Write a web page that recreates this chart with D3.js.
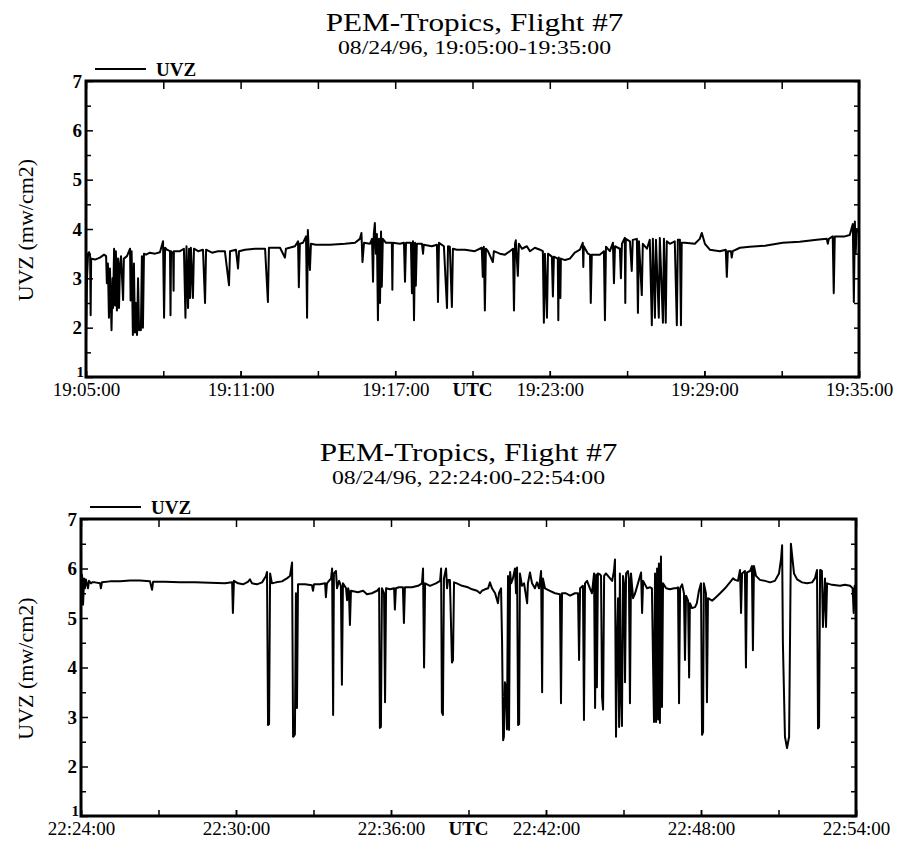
<!DOCTYPE html>
<html>
<head>
<meta charset="utf-8">
<script src="https://cdn.jsdelivr.net/npm/d3@7"></script>
<style>
  body { margin: 0; background: #fff; }
  text { font-family: "Liberation Serif", "Times New Roman", serif; fill: #000; }
</style>
</head>
<body>
<script>
// ── Data (minutes after start, UVZ mw/cm2) ─────────────────────────────
const titleText = 'PEM-Tropics, Flight #7';
const earlySubtitle = '08/24/96, 19:05:00-19:35:00';
const lateSubtitle = '08/24/96, 22:24:00-22:54:00';

const tickMinutes = [0, 6, 12, 18, 24, 30];
const earlyTickLabels = ['19:05:00', '19:11:00', '19:17:00', '19:23:00', '19:29:00', '19:35:00'];
const lateTickLabels = ['22:24:00', '22:30:00', '22:36:00', '22:42:00', '22:48:00', '22:54:00'];
const yTickValues = [1, 2, 3, 4, 5, 6, 7];

const uvzEarly = [
  [0,1.7],[0.04,3.0],[0.08,3.5],[0.12,3.53],[0.16,3.45],[0.18,2.25],[0.20,3.4],[0.35,3.38],[0.54,3.42],[0.70,3.48],
  [0.78,3.45],[0.81,2.9],[0.85,3.3],[0.89,2.2],[0.93,3.2],[0.99,1.95],[1.03,3.0],[1.05,2.4],[1.09,3.6],[1.13,2.45],
  [1.16,3.55],[1.20,2.35],[1.24,3.4],[1.28,2.4],[1.32,3.3],[1.36,3.45],[1.44,2.56],[1.47,3.4],[1.59,3.45],[1.71,3.6],
  [1.73,2.55],[1.77,3.55],[1.82,1.85],[1.86,3.3],[1.90,1.9],[1.94,2.5],[1.98,1.85],[2.02,3.0],[2.06,1.95],[2.10,2.0],
  [2.13,1.95],[2.17,3.45],[2.21,2.0],[2.25,3.5],[2.33,3.48],[2.48,3.52],[2.68,3.5],[2.87,3.53],[2.99,3.75],[3.03,2.2],
  [3.07,3.62],[3.14,3.58],[3.26,3.55],[3.28,2.25],[3.30,3.55],[3.38,3.5],[3.40,2.75],[3.41,3.55],[3.65,3.55],[3.80,3.6],
  [3.86,2.2],[3.90,3.65],[3.96,2.4],[4.00,3.6],[4.04,2.6],[4.07,3.62],[4.15,2.6],[4.19,3.6],[4.35,3.55],[4.54,3.58],
  [4.62,2.5],[4.66,3.58],[4.89,3.52],[5.12,3.55],[5.39,3.55],[5.55,2.86],[5.59,3.55],[5.82,3.58],[5.90,3.2],[5.94,3.55],
  [6.17,3.58],[6.56,3.6],[6.95,3.6],[7.06,2.52],[7.10,3.62],[7.53,3.62],[7.72,3.42],[7.76,3.6],[8.11,3.65],[8.23,3.75],
  [8.26,2.82],[8.30,3.7],[8.42,3.72],[8.54,3.85],[8.58,2.2],[8.61,3.98],[8.65,3.5],[8.69,3.17],[8.73,3.7],[8.92,3.68],
  [9.47,3.68],[10.05,3.7],[10.44,3.72],[10.63,3.8],[10.69,3.92],[10.73,3.33],[10.79,3.72],[11.02,3.7],[11.10,3.8],[11.14,2.93],
  [11.17,3.9],[11.21,4.12],[11.25,3.5],[11.29,3.9],[11.33,2.15],[11.37,3.8],[11.41,2.5],[11.45,3.95],[11.48,2.83],[11.52,3.8],
  [11.64,3.72],[11.87,3.72],[11.89,2.77],[11.91,3.72],[12.18,3.7],[12.34,3.72],[12.38,2.93],[12.42,3.72],[12.61,3.72],[12.65,2.7],
  [12.69,3.75],[12.73,2.15],[12.77,3.72],[12.80,2.85],[12.84,3.7],[13.04,3.7],[13.08,3.5],[13.11,3.68],[13.42,3.65],[13.62,3.68],
  [13.66,2.52],[13.70,3.72],[13.89,3.65],[14.01,2.4],[14.05,3.65],[14.12,3.64],[14.20,2.42],[14.24,3.6],[14.39,3.58],[14.71,3.58],
  [15.09,3.55],[15.36,3.62],[15.40,3.03],[15.44,3.64],[15.48,2.35],[15.52,3.6],[15.60,3.55],[15.79,3.33],[15.83,3.55],[16.06,3.5],
  [16.26,3.48],[16.45,3.55],[16.57,3.6],[16.61,2.35],[16.65,3.7],[16.68,3.77],[16.76,3.05],[16.80,3.7],[16.92,3.6],[17.11,3.65],
  [17.23,3.55],[17.42,3.62],[17.62,3.58],[17.73,3.55],[17.77,2.1],[17.81,3.5],[17.89,2.2],[17.93,3.5],[18.08,3.44],[18.12,2.63],
  [18.16,3.44],[18.31,3.4],[18.33,2.15],[18.35,3.42],[18.41,2.6],[18.43,3.4],[18.59,3.37],[18.78,3.4],[18.97,3.52],[19.17,3.58],
  [19.28,3.72],[19.30,3.23],[19.32,3.65],[19.48,3.5],[19.56,3.48],[19.59,2.5],[19.63,3.48],[19.94,3.48],[20.10,3.55],[20.14,2.15],
  [20.18,3.64],[20.33,3.55],[20.45,3.72],[20.49,2.9],[20.53,3.65],[20.72,3.6],[20.76,3.0],[20.80,3.7],[20.91,3.82],[20.93,2.5],
  [20.95,3.8],[21.11,3.75],[21.18,3.15],[21.22,3.78],[21.38,3.8],[21.42,2.3],[21.46,3.75],[21.57,2.66],[21.61,3.7],[21.77,3.6],
  [21.88,3.78],[21.96,2.05],[22.00,3.8],[22.08,2.2],[22.12,3.78],[22.23,2.2],[22.27,3.82],[22.39,2.1],[22.43,3.8],[22.50,2.1],
  [22.54,3.75],[22.66,3.7],[22.85,3.75],[22.93,2.05],[22.97,3.78],[23.05,3.78],[23.09,2.05],[23.12,3.72],[23.24,3.72],[23.63,3.7],
  [23.82,3.8],[23.90,3.92],[24.02,3.7],[24.21,3.58],[24.60,3.55],[24.83,3.58],[24.87,3.03],[24.91,3.55],[25.03,3.55],[25.06,3.42],
  [25.10,3.55],[25.38,3.62],[25.76,3.64],[26.35,3.66],[27.04,3.72],[27.70,3.74],[28.36,3.78],[28.75,3.8],[28.79,3.7],[28.83,3.8],
  [28.98,3.85],[29.02,2.7],[29.06,3.85],[29.45,3.85],[29.64,3.88],[29.76,4.1],[29.80,2.52],[29.84,4.15],[29.87,3.5],[29.91,4.0],
  [30.00,3.92]
];

const uvzLate = [
  [0,5.85],[0.04,5.87],[0.08,5.27],[0.12,5.8],[0.15,5.6],[0.19,5.78],[0.27,5.6],[0.31,5.75],[0.39,5.7],[0.43,5.72],
  [0.54,5.72],[0.74,5.7],[0.77,5.6],[0.81,5.72],[1.12,5.74],[1.51,5.74],[1.90,5.76],[2.28,5.76],[2.67,5.74],[2.75,5.57],
  [2.79,5.73],[3.25,5.73],[3.83,5.72],[4.41,5.72],[4.99,5.71],[5.57,5.7],[5.85,5.72],[5.88,5.1],[5.92,5.75],[6.08,5.7],
  [6.27,5.68],[6.46,5.73],[6.54,5.78],[6.62,5.7],[6.81,5.68],[7.01,5.72],[7.16,5.85],[7.20,5.93],[7.24,2.84],[7.28,2.86],
  [7.32,5.9],[7.39,5.7],[7.55,5.72],[7.78,5.74],[7.97,5.8],[8.09,5.85],[8.17,6.12],[8.21,2.6],[8.25,2.62],[8.28,2.65],
  [8.32,5.5],[8.36,3.18],[8.40,5.68],[8.67,5.68],[8.94,5.66],[8.98,5.55],[9.02,5.68],[9.25,5.68],[9.45,5.7],[9.48,5.42],
  [9.52,5.7],[9.68,5.8],[9.72,6.0],[9.76,3.04],[9.79,5.9],[9.87,5.95],[9.91,5.6],[9.99,5.75],[10.06,5.65],[10.10,3.65],
  [10.14,5.7],[10.26,5.6],[10.30,5.36],[10.34,5.6],[10.37,5.55],[10.41,4.86],[10.45,5.55],[10.72,5.52],[10.92,5.55],[11.07,5.48],
  [11.26,5.5],[11.46,5.55],[11.54,5.6],[11.57,2.78],[11.61,2.8],[11.65,5.6],[11.73,5.5],[11.77,3.3],[11.81,5.6],[11.96,5.58],
  [12.12,5.6],[12.15,5.17],[12.19,5.6],[12.31,5.62],[12.46,5.62],[12.50,4.9],[12.54,5.62],[12.81,5.62],[13.05,5.65],[13.20,5.7],
  [13.24,6.0],[13.28,4.0],[13.32,5.7],[13.51,5.65],[13.74,5.7],[13.90,5.75],[13.94,6.0],[13.97,3.1],[14.01,3.04],[14.05,5.8],
  [14.13,6.0],[14.17,5.6],[14.21,5.77],[14.28,5.77],[14.36,4.1],[14.40,4.15],[14.44,5.72],[14.55,5.7],[14.75,5.65],[14.98,5.62],
  [15.14,5.58],[15.33,5.55],[15.45,5.5],[15.52,5.55],[15.64,5.58],[15.76,5.6],[15.83,5.72],[15.91,5.6],[16.03,5.5],[16.14,5.3],
  [16.18,5.5],[16.26,5.6],[16.30,4.5],[16.34,2.53],[16.37,2.6],[16.41,3.7],[16.45,3.6],[16.49,2.75],[16.53,5.85],[16.57,2.74],
  [16.61,5.93],[16.65,5.7],[16.72,5.8],[16.80,6.0],[16.84,5.5],[16.88,6.02],[16.92,2.84],[16.96,2.86],[16.99,5.9],[17.07,5.65],
  [17.15,5.7],[17.27,5.3],[17.30,5.7],[17.38,5.92],[17.46,5.7],[17.57,5.6],[17.65,5.72],[17.73,5.6],[17.81,5.95],[17.85,3.5],
  [17.88,5.8],[17.96,5.6],[18.15,5.55],[18.35,5.5],[18.54,5.48],[18.58,3.28],[18.62,5.5],[18.77,5.5],[18.93,5.45],[19.12,5.5],
  [19.24,5.5],[19.28,4.15],[19.32,5.6],[19.43,5.65],[19.47,2.94],[19.51,5.7],[19.59,5.75],[19.70,5.6],[19.78,5.5],[19.86,5.9],
  [19.90,3.18],[19.94,5.88],[19.97,3.6],[20.01,5.9],[20.09,5.88],[20.13,5.85],[20.17,3.4],[20.21,3.15],[20.25,5.85],[20.32,5.9],
  [20.40,5.85],[20.48,5.8],[20.56,5.75],[20.63,5.95],[20.67,6.18],[20.71,2.6],[20.75,4.5],[20.79,5.4],[20.83,2.8],[20.86,5.9],
  [20.90,3.5],[20.94,2.82],[20.98,5.85],[21.02,5.7],[21.06,3.7],[21.10,5.9],[21.17,5.95],[21.21,5.8],[21.25,3.28],[21.29,5.9],
  [21.37,5.4],[21.45,5.5],[21.56,5.7],[21.68,5.92],[21.72,5.1],[21.76,5.75],[21.91,5.6],[22.03,5.62],[22.10,5.6],[22.18,2.9],
  [22.22,5.9],[22.26,2.9],[22.30,6.0],[22.34,2.95],[22.37,6.1],[22.41,2.88],[22.45,6.24],[22.49,3.2],[22.53,5.7],[22.65,5.6],
  [22.80,5.58],[22.96,5.6],[23.03,5.6],[23.11,5.62],[23.15,3.28],[23.19,5.6],[23.27,5.68],[23.34,5.5],[23.38,4.15],[23.42,5.45],
  [23.50,5.35],[23.54,3.8],[23.57,5.3],[23.65,5.2],[23.77,5.22],[23.84,5.3],[23.92,5.55],[24.00,5.7],[24.04,2.64],[24.08,2.7],
  [24.11,5.7],[24.19,5.5],[24.23,3.3],[24.27,5.4],[24.43,5.35],[24.58,5.42],[24.74,5.5],[24.93,5.6],[25.12,5.72],[25.24,5.8],
  [25.32,5.77],[25.43,5.75],[25.51,5.97],[25.55,5.1],[25.59,5.9],[25.70,5.95],[25.74,4.0],[25.78,5.92],[25.90,5.95],[25.97,6.05],
  [26.01,4.35],[26.05,6.05],[26.13,5.85],[26.28,5.77],[26.48,5.75],[26.67,5.72],[26.86,5.75],[27.02,5.9],[27.10,6.2],[27.14,6.47],
  [27.17,4.5],[27.25,2.6],[27.33,2.37],[27.41,2.6],[27.45,4.8],[27.48,6.5],[27.52,6.3],[27.60,5.9],[27.72,5.78],[27.91,5.72],
  [28.10,5.7],[28.30,5.72],[28.41,5.8],[28.49,5.97],[28.53,2.77],[28.57,2.8],[28.61,5.97],[28.68,5.95],[28.72,4.82],[28.80,5.8],
  [28.84,4.82],[28.88,5.7],[29.07,5.67],[29.38,5.65],[29.57,5.67],[29.77,5.65],[29.87,5.6],[29.91,5.1],[29.95,5.65],[30.00,5.65]
];

// ── Layout ─────────────────────────────────────────────────────────────
const width = 898;
const height = 842;

const svg = d3.select('body')
  .append('svg')
  .attr('width', width)
  .attr('height', height);

function drawPanel(p) {
  const x = d3.scaleLinear().domain([0, 30]).range([p.left, p.right]);
  const y = d3.scaleLinear().domain([1, 7]).range([p.bottom, p.top]);
  const g = svg.append('g');
  const cx = (p.left + p.right) / 2;

  // titles (the original lettering is wider than Times, so stretch it)
  g.append('text')
    .attr('transform', `translate(${cx + p.titleShift}, ${p.titleY}) scale(1.2, 1)`)
    .attr('text-anchor', 'middle')
    .style('font-size', '26px')
    .text(titleText);

  g.append('text')
    .attr('transform', `translate(${cx + p.titleShift}, ${p.titleY + 23}) scale(1.25, 1)`)
    .attr('text-anchor', 'middle')
    .style('font-size', '19px')
    .text(p.subtitle);

  // the series
  g.append('path')
    .datum(p.data)
    .attr('d', d3.line().x(d => x(d[0])).y(d => y(d[1])))
    .attr('fill', 'none')
    .attr('stroke', '#000')
    .attr('stroke-width', 2)
    .attr('stroke-linejoin', 'round');

  // bottom axis, ticks every 3 min, labels every 6
  g.append('g')
    .attr('transform', `translate(0, ${p.bottom})`)
    .call(d3.axisBottom(x).tickValues(d3.range(0, 31, 3)).tickSize(-6).tickFormat(''));

  g.append('g')
    .attr('class', 'xlab')
    .attr('transform', `translate(0, ${p.bottom})`)
    .call(d3.axisBottom(x).tickValues(tickMinutes).tickSize(-6).tickPadding(6)
      .tickFormat((d, i) => p.tickLabels[i]));

  // top axis
  g.append('g')
    .attr('transform', `translate(0, ${p.top})`)
    .call(d3.axisTop(x).tickValues(d3.range(0, 31, 3)).tickSize(-8).tickFormat(''));

  // left axis: minor halves, then labelled integers
  g.append('g')
    .attr('transform', `translate(${p.left}, 0)`)
    .call(d3.axisLeft(y).tickValues(d3.range(1.5, 7, 1)).tickSize(-5).tickFormat(''));

  g.append('g')
    .attr('class', 'ylab')
    .attr('transform', `translate(${p.left}, 0)`)
    .call(d3.axisLeft(y).tickValues(yTickValues).tickSize(-7).tickPadding(4).tickFormat(d3.format('d')));

  // right axis
  g.append('g')
    .attr('transform', `translate(${p.right}, 0)`)
    .call(d3.axisRight(y).tickValues(d3.range(1, 7.01, 0.5)).tickSize(-5).tickFormat(''));

  g.selectAll('.domain').remove();
  g.selectAll('.tick line').attr('stroke', '#000').attr('stroke-width', 1.5);

  g.selectAll('.xlab text')
    .attr('fill', '#000')
    .style('font-family', '"Liberation Serif", serif')
    .style('font-size', '19px');

  g.selectAll('.ylab text')
    .attr('fill', '#000')
    .style('font-family', '"Liberation Serif", serif')
    .style('font-size', '19px')
    .style('font-weight', 'bold');

  // the "1" sits tucked just above the corner, clear of the time label
  g.selectAll('.ylab .tick')
    .filter(d => d === 1)
    .select('text')
    .attr('x', -2)
    .attr('dy', '-0.05em')
    .style('font-size', '15px');

  // frame
  g.append('rect')
    .attr('x', p.left)
    .attr('y', p.top)
    .attr('width', p.right - p.left)
    .attr('height', p.bottom - p.top)
    .attr('fill', 'none')
    .attr('stroke', '#000')
    .attr('stroke-width', 3);

  // UTC
  g.append('text')
    .attr('x', x(15))
    .attr('y', p.bottom + 19)
    .attr('text-anchor', 'middle')
    .style('font-size', '19px')
    .style('font-weight', 'bold')
    .text('UTC');

  // y title
  g.append('text')
    .attr('transform', `translate(33, ${(p.top + p.bottom) / 2 + 1}) rotate(-90)`)
    .attr('text-anchor', 'middle')
    .style('font-size', '22px')
    .text('UVZ (mw/cm2)');

  // legend
  g.append('line')
    .attr('x1', p.left + 9)
    .attr('x2', p.left + 60)
    .attr('y1', p.top - 12)
    .attr('y2', p.top - 12)
    .attr('stroke', '#000')
    .attr('stroke-width', 2.2);

  g.append('text')
    .attr('x', p.left + 70)
    .attr('y', p.top - 5)
    .style('font-size', '19px')
    .style('font-weight', 'bold')
    .text('UVZ');
}

drawPanel({
  left: 86, right: 859, top: 81, bottom: 377,
  titleY: 31, titleShift: 2,
  subtitle: earlySubtitle,
  tickLabels: earlyTickLabels,
  data: uvzEarly
});

drawPanel({
  left: 81, right: 856, top: 519, bottom: 816,
  titleY: 461, titleShift: 0,
  subtitle: lateSubtitle,
  tickLabels: lateTickLabels,
  data: uvzLate
});
</script>
</body>
</html>
